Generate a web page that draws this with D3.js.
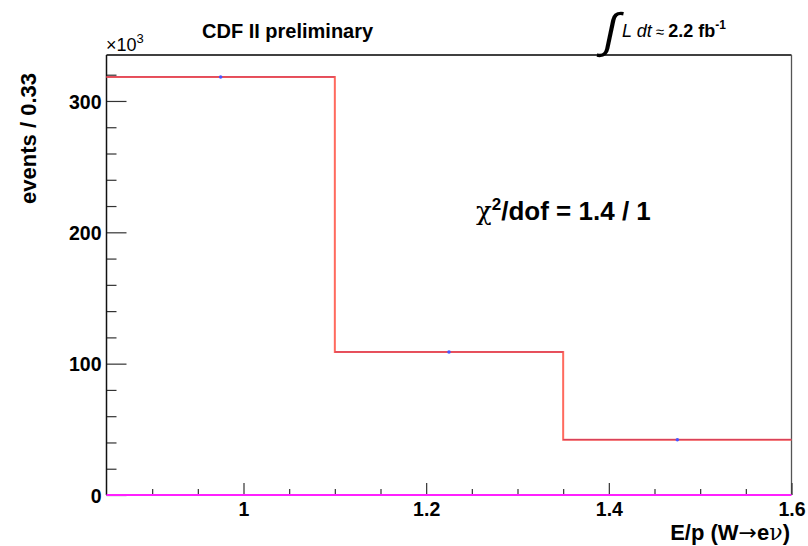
<!DOCTYPE html>
<html>
<head>
<meta charset="utf-8">
<script src="https://cdn.jsdelivr.net/npm/d3@7"></script>
<style>
  html, body { margin: 0; padding: 0; background: #fff; }
  svg { display: block; }
  text { font-family: "Liberation Sans", Arial, Helvetica, sans-serif; }
</style>
</head>
<body>
<svg id="chart" width="808" height="546"></svg>
<script>
// Bin edges of the E/p histogram
const binEdges = [0.85, 1.1, 1.35, 1.6];
// Event counts per bin (in units of 10^3)
const dataCounts = [318.3, 108.9, 42.1];
// Fitted template counts per bin (in units of 10^3)
const fitCounts = [318.3, 108.9, 42.1];
// Bin centres where data points sit
const binCenters = [0.975, 1.225, 1.475];
// Axis tick values
const xMajorTicks = [1.0, 1.2, 1.4, 1.6];
const xMinorTicks = [0.9, 0.95, 1.05, 1.1, 1.15, 1.25, 1.3, 1.35, 1.45, 1.5, 1.55];
const yMajorTicks = [0, 100, 200, 300];
const yMinorTicks = [20, 40, 60, 80, 120, 140, 160, 180, 220, 240, 260, 280, 320];

const svg = d3.select("#chart");
const m = { left: 106.5, right: 791.5, top: 55, bottom: 495 };

const x = d3.scaleLinear().domain([0.85, 1.6]).range([m.left, m.right]);
const y = d3.scaleLinear().domain([0, 335]).range([m.bottom, m.top]);

// Frame
svg.append("line").attr("x1", m.left).attr("x2", m.right).attr("y1", m.top).attr("y2", m.top)
  .attr("stroke", "#000").attr("stroke-width", 1.3);
svg.append("line").attr("x1", m.right).attr("x2", m.right).attr("y1", m.top).attr("y2", m.bottom)
  .attr("stroke", "#555").attr("stroke-width", 1.3);

// Y axis: major + minor ticks
const yAxisMajor = d3.axisLeft(y).tickValues(yMajorTicks).tickSize(-20).tickPadding(5)
  .tickFormat(d3.format("d"));
const gy = svg.append("g").attr("transform", `translate(${m.left},0)`).call(yAxisMajor);
const yAxisMinor = d3.axisLeft(y).tickValues(yMinorTicks).tickSize(-10).tickFormat("");
const gy2 = svg.append("g").attr("transform", `translate(${m.left},0)`).call(yAxisMinor);

// X axis: major + minor ticks
const xAxisMajor = d3.axisBottom(x).tickValues(xMajorTicks).tickSize(-12).tickPadding(7)
  .tickFormat(d => d === 1 ? "1" : d3.format(".1f")(d));
const gx = svg.append("g").attr("transform", `translate(0,${m.bottom})`).call(xAxisMajor);
const xAxisMinor = d3.axisBottom(x).tickValues(xMinorTicks).tickSize(-6).tickFormat("");
const gx2 = svg.append("g").attr("transform", `translate(0,${m.bottom})`).call(xAxisMinor);

[gy, gy2, gx, gx2].forEach(g => {
  g.select(".domain").remove();
  g.selectAll(".tick line").attr("stroke", "#333").attr("stroke-width", 1.2);
  g.selectAll("text").attr("fill", "#000").attr("font-weight", "bold")
    .attr("font-size", 19.5).attr("font-family", "'Liberation Sans', Arial, sans-serif");
});
gy.selectAll("text").attr("dy", "0.36em");

// Left axis line
svg.append("line").attr("x1", m.left).attr("x2", m.left).attr("y1", m.top).attr("y2", m.bottom)
  .attr("stroke", "#111").attr("stroke-width", 1.5);

// Fit template as a step line
const fitPts = [];
fitCounts.forEach((v, i) => {
  fitPts.push([binEdges[i], v], [binEdges[i + 1], v]);
});
const stepLine = d3.line().x(d => x(d[0])).y(d => y(d[1]));
svg.append("path").datum(fitPts).attr("d", stepLine)
  .attr("fill", "none").attr("stroke", "#ff6a5e").attr("stroke-width", 2);

// Data histogram: horizontal bin-width bars
svg.append("g").selectAll("line").data(dataCounts).join("line")
  .attr("x1", (d, i) => x(binEdges[i])).attr("x2", (d, i) => x(binEdges[i + 1]))
  .attr("y1", d => y(d)).attr("y2", d => y(d))
  .attr("stroke", "#c22a5a").attr("stroke-width", 0.8);

// Data points
svg.append("g").selectAll("circle").data(dataCounts).join("circle")
  .attr("cx", (d, i) => x(binCenters[i])).attr("cy", d => y(d)).attr("r", 1.8)
  .attr("fill", "#4a55ff");

// Baseline at zero
svg.append("line").attr("x1", m.left).attr("x2", m.right).attr("y1", y(0)).attr("y2", y(0))
  .attr("stroke", "#ff20ff").attr("stroke-width", 2);

// Exponent label
const ex = svg.append("text").attr("x", 106).attr("y", 51).attr("font-size", 18).attr("fill", "#000");
ex.append("tspan").text("×10");
ex.append("tspan").attr("font-size", 13).attr("dy", -8).text("3");

// Title
svg.append("text").attr("x", 202).attr("y", 38).attr("font-size", 20).attr("font-weight", "bold")
  .text("CDF II preliminary");

// Luminosity
svg.append("text").attr("transform", "translate(601,47) skewX(-12)").attr("font-size", 48)
  .attr("font-family", "'Liberation Serif', serif").text("∫");
const lum = svg.append("text").attr("x", 622).attr("y", 37).attr("font-size", 18);
lum.append("tspan").attr("font-style", "italic").text("L dt");
lum.append("tspan").attr("font-size", 15).text(" ≈ ");
lum.append("tspan").attr("font-weight", "bold").text("2.2 fb");
lum.append("tspan").attr("font-weight", "bold").attr("font-size", 12).attr("dy", -8).text("-1");

// Chi-square annotation
const chi = svg.append("text").attr("x", 476).attr("y", 220).attr("font-size", 26).attr("font-weight", "bold");
chi.append("tspan").attr("font-weight", "normal").attr("font-family", "'DejaVu Serif', serif").text("χ");
chi.append("tspan").attr("font-size", 17).attr("dy", -10).text("2");
chi.append("tspan").attr("dy", 10).text("/dof = 1.4 / 1");

// Axis titles
const xt = svg.append("text").attr("x", 790).attr("y", 540).attr("text-anchor", "end")
  .attr("font-size", 22).attr("font-weight", "bold");
xt.append("tspan").text("E/p (W");
xt.append("tspan").attr("font-family", "'DejaVu Sans', sans-serif").attr("font-weight", "normal").text("→");
xt.append("tspan").text("e");
xt.append("tspan").attr("font-family", "'DejaVu Serif', serif").attr("font-weight", "normal").text("ν");
xt.append("tspan").text(")");
svg.append("text").attr("transform", "translate(36,73) rotate(-90)").attr("text-anchor", "end")
  .attr("font-size", 22).attr("font-weight", "bold").text("events / 0.33");
</script>
</body>
</html>
